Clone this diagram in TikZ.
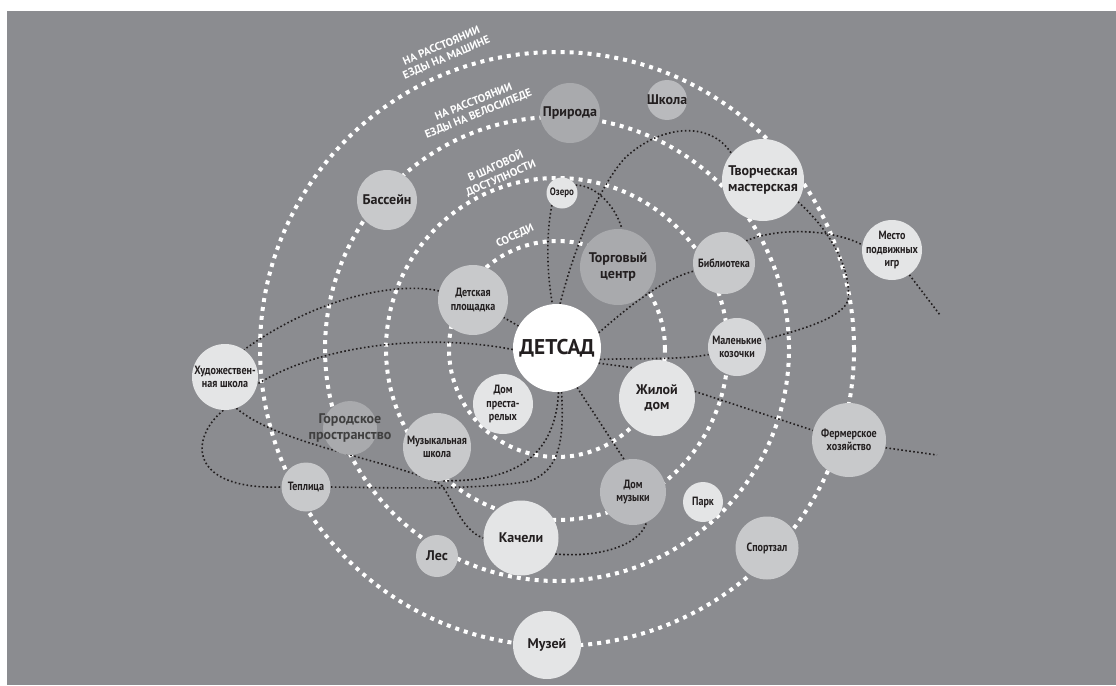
\documentclass[tikz,border=0pt]{standalone}
\usepackage{fontspec}
\setmainfont{PT Sans}
\newfontfamily\schmal[FakeStretch=0.84]{PT Sans}
\usetikzlibrary{backgrounds}
\definecolor{bgGrau}{RGB}{139,140,144}
\definecolor{hell}{RGB}{228,229,230}
\definecolor{mittel}{RGB}{200,201,203}
\definecolor{sanft}{RGB}{214,215,217}
\definecolor{grau}{RGB}{185,186,189}
\definecolor{dunkel}{RGB}{169,170,173}
\definecolor{schrift}{RGB}{35,31,32}
\newcommand\kgFont{\bfseries\fontsize{16}{18}\selectfont}
\newcommand\bigFont{\bfseries\fontsize{10.5}{11.5}\selectfont}
\newcommand\smallFont{\schmal\bfseries\fontsize{9}{10}\selectfont}
\newcommand\ringFont{\bfseries\fontsize{8.3}{9.6}\selectfont}

\begin{document}
\begin{tikzpicture}[x=0.75pt,y=-0.75pt,
  ring/.style={white,line width=3pt,dash pattern=on 3pt off 3.75pt},
  link/.style={schrift,line width=1.2pt,dash pattern=on 1.2pt off 1.8pt},
  place/.style={circle,inner sep=-3pt,align=center,text=schrift,minimum size=#1*1.5pt},
  ringLbl/.style={text=white,align=center,font=\ringFont}]
\useasboundingbox (0,0) rectangle (1116,685);
%Ringe um den Detsad
\coordinate (mitte) at (557,349);
%Orte
\node[place=44,fill=white,font=\kgFont] (kg) at (557,348) {ДЕТСАД};
\node[place=38,fill=dunkel,font=\bigFont] (shop) at (618,267) {Торговый\\центр};
\node[place=35,fill=mittel,font=\smallFont] (play) at (473,300) {Детская\\площадка};
\node[place=30,fill=hell,font=\smallFont] (old) at (503,404) {Дом\\преста-\\релых};
\node[place=38,fill=hell,font=\bigFont] (home) at (657,398) {Жилой\\дом};
\node[place=31,fill=mittel,font=\smallFont] (lib) at (724,263) {Библиотека};
\node[place=29,fill=sanft,font=\smallFont] (goats) at (737,347) {Маленькие\\козочки};
\node[place=15.5,fill=hell,font=\schmal\bfseries\fontsize{8}{9}\selectfont] (lake) at (562,193) {Озеро};
\node[place=30,fill=dunkel,font=\bigFont] (nature) at (570,113) {Природа};
\node[place=20,fill=grau,font=\bigFont] (school) at (667,100) {Школа};
\node[place=30,fill=mittel,font=\bigFont] (pool) at (387,200) {Бассейн};
\node[place=41,fill=hell,font=\bigFont] (studio) at (763,180) {Творческая\\мастерская};
\node[place=30,fill=hell,font=\smallFont] (games) at (892,250) {Место\\подвижных\\игр};
\node[place=33,fill=hell,font=\smallFont] (art) at (225,377) {Художествен-\\ная школа};
\node[place=27,fill=dunkel] (city) at (350,428) {};
\node[font=\bigFont,text=black!75,align=center] (cityLbl) at (city) {Городское\\пространство};
\node[place=34,fill=mittel,font=\smallFont] (music) at (437,447) {Музыкальная\\школа};
\node[place=24.5,fill=mittel,font=\smallFont] (green) at (306,487) {Теплица};
\node[place=21,fill=mittel,font=\bigFont] (forest) at (437,556) {Лес};
\node[place=37.5,fill=hell,font=\bigFont] (swing) at (521,538) {Качели};
\node[place=34,fill=hell,font=\bigFont] (museum) at (547,645) {Музей};
\node[place=33,fill=grau,font=\smallFont] (mhouse) at (633,492) {Дом\\музыки};
\node[place=20,fill=hell,font=\smallFont] (park) at (703,502) {Парк};
\node[place=31.5,fill=mittel,font=\smallFont] (gym) at (767,548) {Спортзал};
\node[place=37,fill=mittel,font=\smallFont] (farm) at (849,440) {Фермерское\\хозяйство};
\coordinate (farmEnd) at (937,455);
\coordinate (gamesEnd) at (940,315);
%Beschriftung der Ringe
\node[ringLbl,rotate=23] (carLbl) at (444,52) {НА РАССТОЯНИИ\\ЕЗДЫ НА МАШИНЕ};
\node[ringLbl,rotate=22] (bikeLbl) at (476,108) {НА РАССТОЯНИИ\\ЕЗДЫ НА ВЕЛОСИПЕДЕ};
\node[ringLbl,rotate=24] (walkLbl) at (498,172) {В ШАГОВОЙ\\ДОСТУПНОСТИ};
\node[ringLbl,rotate=26] (neighLbl) at (515,236) {СОСЕДИ};
\begin{scope}[on background layer]
\fill[white] (0,0) rectangle (1116,685);
\fill[bgGrau] (7,11) rectangle (1116,685);
\foreach \r in {108,171,232,297}{
\draw[ring] (mitte) circle[radius=\r*0.75pt];
}
%Verbindungen
\draw[link] (kg) -- (play);
\draw[link] (kg.182) .. controls (440,335) and (330,340) .. (art.-12);
\draw[link] (play.165) .. controls (400,282) and (320,295) .. (art.55);
\draw[link] (art.-93) .. controls (188,440) and (190,490) .. (green.west);
\draw[link] (art.-70) .. controls (280,445) and (390,460) .. (440,484) .. controls (452,495) and (460,530) .. (swing.west);
\draw[link] (green.east) .. controls (400,488) and (480,490) .. (530,481) .. controls (560,470) and (564,440) .. (kg.-84);
\draw[link] (kg.-88) .. controls (555,460) and (510,482) .. (music.-80);
\draw[link] (kg.-63) -- (mhouse.105);
\draw[link] (swing.-25) .. controls (600,558) and (640,545) .. (mhouse.-66);
\draw[link] (kg.86) .. controls (575,245) and (600,185) .. (625,158) .. controls (660,125) and (710,120) .. (studio.140);
\draw[link] (lake.230) .. controls (545,240) and (548,280) .. (kg.96);
\draw[link] (lake.30) .. controls (595,185) and (615,205) .. (shop.84);
\draw[link] (kg.20) .. controls (625,310) and (660,280) .. (lib.195);
\draw[link] (kg.-15) .. controls (640,358) and (680,360) .. (goats.195);
\draw[link] (kg.-20) -- (home.128);
\draw[link] (home.10) -- (farm.165);
\draw[link] (farm.-12) -- (farmEnd);
\draw[link] (studio.-32) .. controls (830,230) and (852,270) .. (848,300) .. controls (843,318) and (800,330) .. (goats.15);
\draw[link] (lib.45) .. controls (775,228) and (830,228) .. (games.170);
\draw[link] (games.-55) -- (gamesEnd);
\end{scope}
\end{tikzpicture}
\end{document}
